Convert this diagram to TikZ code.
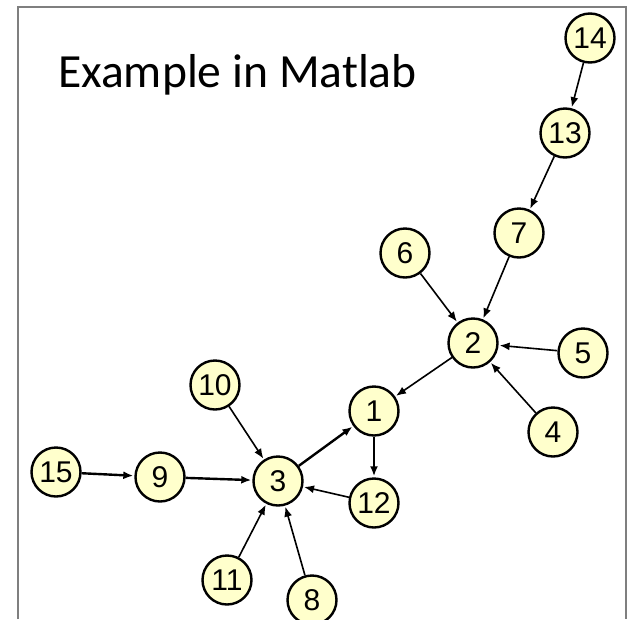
\documentclass[tikz,border=0pt]{standalone}
\usepackage{fontspec}
\setmainfont{Liberation Sans}
\newfontfamily\titlefont{Carlito}
\usetikzlibrary{arrows.meta}
\definecolor{Cream}{HTML}{FFFFCC}
\definecolor{Frame}{HTML}{7F7F7F}

\tikzset{
  vtx/.style={circle,draw=black,line width=2.4pt,fill=Cream,minimum size=49pt,
    inner sep=0pt,font=\fontsize{30}{30}\selectfont},
  edge/.style={->,line width=1.6pt,shorten >=1pt},
}

\begin{document}
\begin{tikzpicture}[x=1pt,y=-1pt,>={Latex[length=10pt,width=8pt]}]
      \useasboundingbox (0,0) rectangle (629,619);
      \draw[Frame,line width=2pt] (18,619) -- (18,7) -- (626,7) -- (626,619);

      \node[anchor=base west,font=\titlefont\fontsize{47.6}{47.6}\selectfont,inner sep=0pt]
        (title) at (58,87) {Example in Matlab};

      % vertices
      \foreach \n/\x/\y in {14/590/38,13/565/133,7/519/233,6/405/253,2/473/343,
          5/583/353,4/553/432,1/374/411,10/215/385,3/278/481,12/374/503,
          15/56/472,9/160/477,11/227/580,8/312/600} {
        \node[vtx] (v\n) at (\x,\y) {\n};
      }

      % edges
      \foreach \a/\b in {14/13,13/7,7/2,6/2,5/2,4/2,2/1,12/3,10/3,11/3,8/3} {
        \draw[edge] (v\a) -- (v\b);
      }
      \foreach \a/\b in {3/1,1/12,9/3,15/9} {
        \draw[edge,line width=2.4pt] (v\a) -- (v\b);
      }
    \end{tikzpicture}
\end{document}
